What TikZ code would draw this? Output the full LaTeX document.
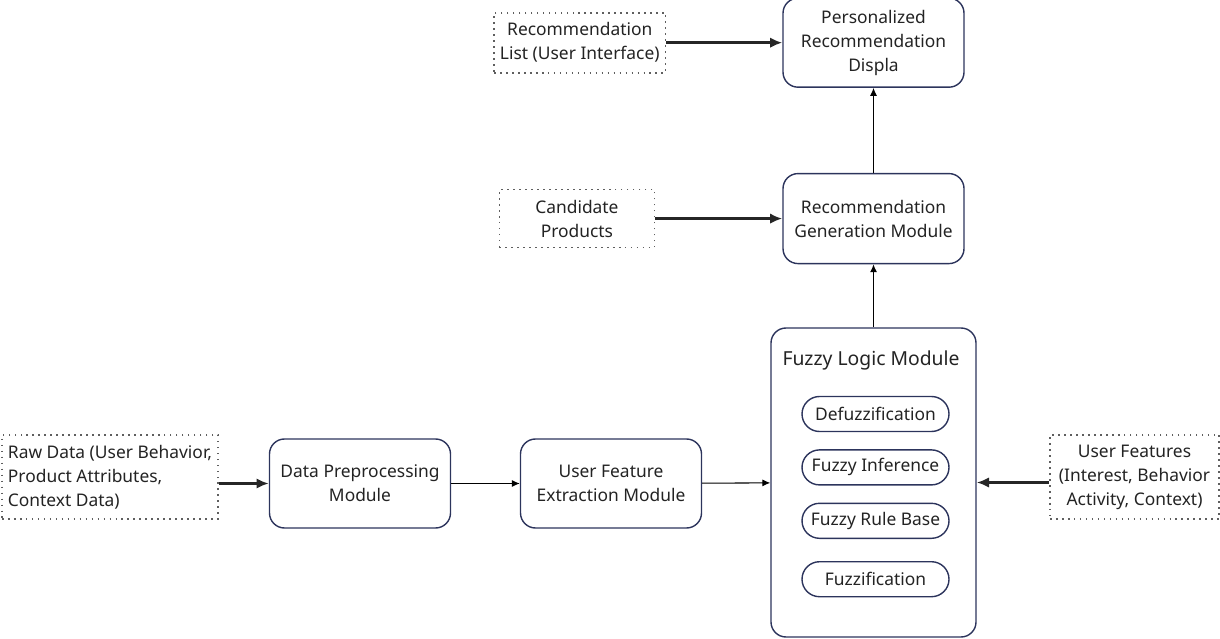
\documentclass[tikz,border=0pt]{standalone}
\usepackage{fontspec}
\setmainfont{Noto Sans}
\usepackage{tikz}
\usetikzlibrary{arrows.meta, positioning}

\definecolor{modline}{RGB}{44,52,92}
\definecolor{dotline}{RGB}{95,95,95}
\definecolor{txt}{RGB}{35,35,35}

\begin{document}
\begin{tikzpicture}[
    font=\fontsize{9.9}{13.6}\selectfont, text=txt,
    module/.style={draw=modline, line width=0.8pt, rectangle, rounded corners=0.3cm, align=center, minimum width=3.62cm, minimum height=1.78cm},
    pill/.style={draw=modline, line width=0.8pt, rectangle, rounded corners=0.35cm, align=center, minimum width=2.94cm, minimum height=0.7cm, inner sep=1pt},
    source/.style={draw=dotline, line width=1pt, dash pattern=on 0.9pt off 2.5pt, rectangle, align=center, minimum height=1.68cm},
    arrow/.style={-{Latex[length=4.5pt,width=4pt]}, line width=0.6pt},
    thickarrow/.style={-{Latex[length=7pt,width=6pt]}, line width=1.4pt, draw=black!85}
]
\useasboundingbox (0,0) rectangle (24.4,12.76);

% Nodes
\node[module, minimum width=4.1cm, minimum height=6.18cm] (fuzzy) at (17.47,3.11) {};
\node at (17.42,5.56) (fuzzytitle) {\fontsize{11}{14}\selectfont Fuzzy Logic Module};
\node[pill] (defuzz) at (17.51,4.48) {Defuzzification};
\node[pill, below=0.34cm of defuzz] (infer) {Fuzzy Inference};
\node[pill, below=0.34cm of infer] (rules) {Fuzzy Rule Base};
\node[pill, below=0.44cm of rules] (fuzzif) {Fuzzification};

\node[module] (extract) at (12.22,3.09) {User Feature\\Extraction Module};
\node[module] (prep) at (7.2,3.09) {Data Preprocessing\\Module};
\node[source, minimum width=4.32cm, inner xsep=2pt, align=left] (raw) at (2.2,3.22) {Raw Data (User Behavior,\\Product Attributes,\\Context Data)};
\node[source, minimum width=3.38cm] (userfeat) at (22.69,3.22) {User Features\\(Interest, Behavior\\Activity, Context)};

\node[module, minimum height=1.8cm, above=1.26cm of fuzzy] (gen) {Recommendation\\Generation Module};
\node[module, above=1.7cm of gen] (display) {Personalized\\Recommendation\\Displa};
\node[source, minimum width=3.1cm, minimum height=1.16cm, left=2.54cm of gen] (cand) {Candidate\\Products};
\node[source, minimum width=3.32cm, minimum height=1.2cm, left=2.32cm of display] (reclist) {Recommendation\\List (User Interface)};

% Arrows
\draw[thickarrow] (raw.east |- prep.west) -- (prep.west);
\draw[arrow] (prep) -- (extract);
\draw[arrow] (extract) -- (fuzzy);
\draw[thickarrow] (userfeat.west |- fuzzy.east) -- (fuzzy.east);
\draw[arrow] (fuzzy) -- (gen);
\draw[arrow] (gen) -- (display);
\draw[thickarrow] (cand) -- (gen);
\draw[thickarrow] (reclist) -- (display);

\end{tikzpicture}
\end{document}
